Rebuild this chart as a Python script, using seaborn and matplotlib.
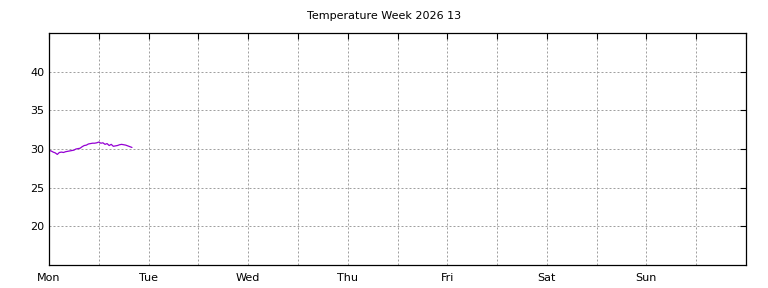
import matplotlib
matplotlib.use("Agg")
import matplotlib.pyplot as plt
import seaborn as sns
import pandas as pd
import numpy as np
from matplotlib.ticker import MultipleLocator

# hours since Monday 00:00
hours = [0, 0.5, 1, 1.5, 2, 2.5, 3, 3.5, 4, 4.5, 5, 5.5, 6, 6.5, 7, 7.5, 8, 8.5, 9, 9.5,
         10, 10.5, 11, 11.5, 12, 12.5, 13, 13.5, 14, 14.5, 15, 15.5, 16, 16.5, 17, 17.5,
         18, 18.5, 19, 19.5, 20]
temps = [29.8, 29.75, 29.6, 29.5, 29.3, 29.55, 29.6, 29.55, 29.65, 29.7, 29.75, 29.8,
         29.85, 30.0, 30.05, 30.1, 30.3, 30.45, 30.5, 30.65, 30.7, 30.75, 30.75, 30.8,
         30.9, 30.75, 30.8, 30.6, 30.7, 30.45, 30.6, 30.35, 30.4, 30.45, 30.55, 30.6,
         30.55, 30.5, 30.4, 30.3, 30.2]
day_labels = ["Mon", "Tue", "Wed", "Thu", "Fri", "Sat", "Sun"]
y_ticks = [20, 25, 30, 35, 40]
title = "Temperature Week 2026 13"

df = pd.DataFrame({"day": np.array(hours) / 24.0, "temp": temps})

sns.set_style("white")
plt.rcParams['font.family'] = ['DejaVu Sans']
plt.rcParams['text.color'] = 'black'
plt.rcParams['xtick.color'] = 'black'
plt.rcParams['ytick.color'] = 'black'

fig = plt.figure(figsize=(7.68, 2.88), dpi=100)
ax = fig.add_axes([49/768, 23/288, 697/768, 232/288])

sns.lineplot(data=df, x="day", y="temp", ax=ax, color="#9400d3", linewidth=0.9)

ax.set_xlim(0, 7)
ax.set_ylim(15, 45)
ax.set_xticks(range(len(day_labels)))
ax.set_xticklabels(day_labels, fontsize=8)
ax.xaxis.set_minor_locator(MultipleLocator(0.5))
ax.set_yticks(y_ticks)
ax.set_yticklabels([str(v) for v in y_ticks], fontsize=8)
ax.set_xlabel("")
ax.set_ylabel("")
grid_kw = dict(color="#a0a0a0", linestyle=(0, (2, 2)), linewidth=0.72)
ax.grid(True, which="both", axis="x", **grid_kw)
ax.grid(True, which="major", axis="y", **grid_kw)
ax.tick_params(axis="both", which="both", direction="in", top=True, right=True,
               length=4, width=0.8, colors="black", labelcolor="black")
ax.tick_params(axis="x", which="major", pad=6)
ax.tick_params(axis="x", which="minor", length=4)
for s in ax.spines.values():
    s.set_color("black")
    s.set_linewidth(0.9)
fig.text(0.5, 1 - 16/288, title, ha="center", va="center", fontsize=8, color="black")

fig.savefig("out.png", dpi=100)
